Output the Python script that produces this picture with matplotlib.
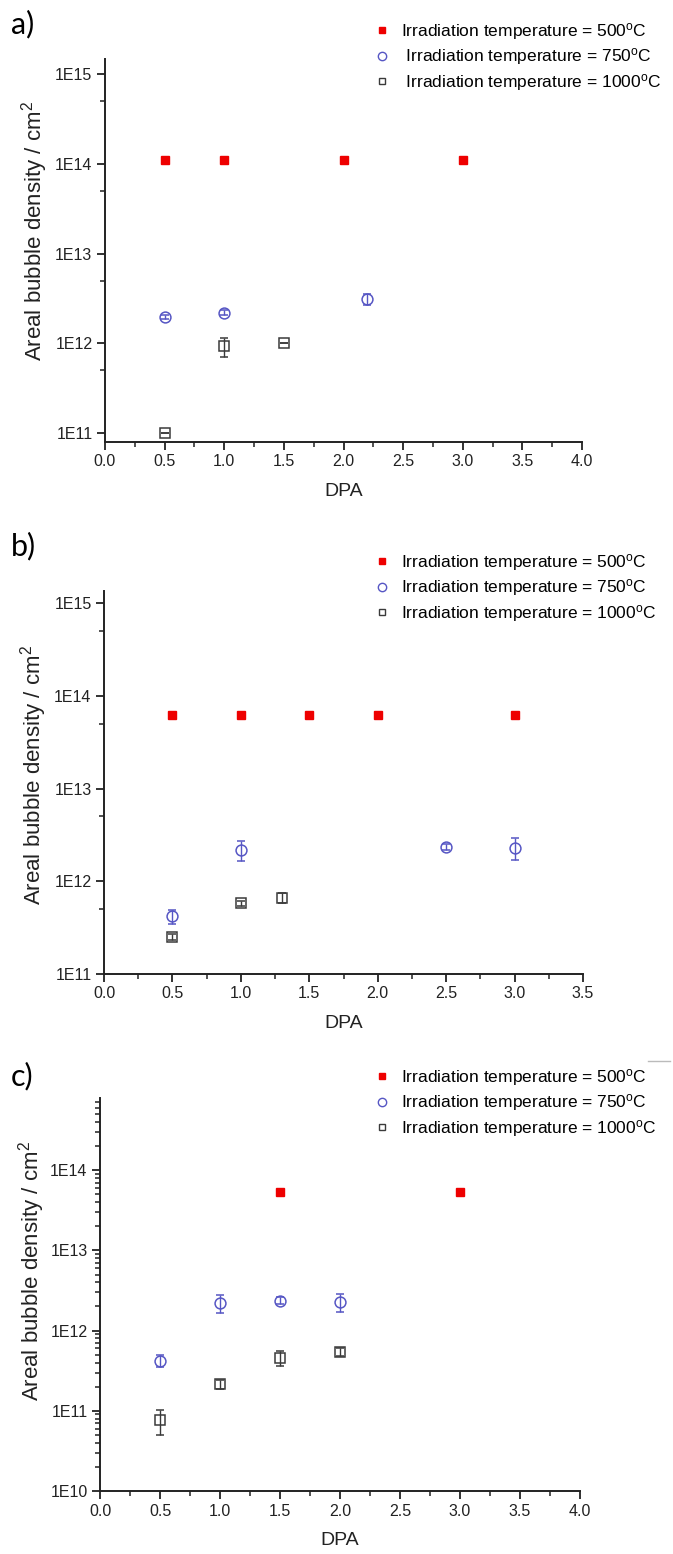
import numpy as np
import matplotlib
matplotlib.use("Agg")
import matplotlib.pyplot as plt
from matplotlib.ticker import FuncFormatter, MultipleLocator, LogLocator
from matplotlib.lines import Line2D

plt.rcParams['font.family'] = ['Liberation Sans', 'DejaVu Sans']
plt.rcParams['mathtext.fontset'] = 'custom'
plt.rcParams['mathtext.rm'] = 'Liberation Sans'
plt.rcParams['mathtext.it'] = 'Liberation Sans:italic'

# ---- data ----
# panel a
a_x500 = [0.5, 1.0, 2.0, 3.0]
a_y500 = [1.1e14, 1.1e14, 1.1e14, 1.1e14]
a_x750 = [0.5, 1.0, 2.2]
a_y750 = [1.95e12, 2.2e12, 3.1e12]
a_e750 = [0.1e12, 0.15e12, 0.45e12]
a_x1000 = [0.5, 1.0, 1.5]
a_y1000 = [1.0e11, 0.93e12, 1.0e12]
a_e1000 = [0.0, 0.22e12, 0.0]

# panel b
b_x500 = [0.5, 1.0, 1.5, 2.0, 3.0]
b_y500 = [6.2e13, 6.2e13, 6.2e13, 6.2e13, 6.2e13]
b_x750 = [0.5, 1.0, 2.5, 3.0]
b_y750 = [4.2e11, 2.2e12, 2.35e12, 2.3e12]
b_e750 = [0.7e11, 0.55e12, 0.2e12, 0.6e12]
b_x1000 = [0.5, 1.0, 1.3]
b_y1000 = [2.5e11, 5.8e11, 6.6e11]
b_e1000 = [0.2e11, 0.4e11, 0.8e11]

# panel c
c_x500 = [1.5, 3.0]
c_y500 = [5.4e13, 5.4e13]
c_x750 = [0.5, 1.0, 1.5, 2.0]
c_y750 = [4.2e11, 2.2e12, 2.37e12, 2.3e12]
c_e750 = [0.7e11, 0.55e12, 0.25e12, 0.6e12]
c_x1000 = [0.5, 1.0, 1.5, 2.0]
c_y1000 = [7.6e10, 2.15e11, 4.6e11, 5.4e11]
c_e1000 = [2.6e10, 0.3e11, 1.0e11, 0.6e11]

labels_a = ['Irradiation temperature = 500$^\\mathrm{o}$C',
            ' Irradiation temperature = 750$^\\mathrm{o}$C',
            ' Irradiation temperature = 1000$^\\mathrm{o}$C']
labels_bc = ['Irradiation temperature = 500$^\\mathrm{o}$C',
             'Irradiation temperature = 750$^\\mathrm{o}$C',
             'Irradiation temperature = 1000$^\\mathrm{o}$C']

RED = '#ee0000'
BLUE = '#5656c4'
GREY = '#3a3a3a'
INK = '#222222'

W, H = 673, 1554
fig = plt.figure(figsize=(W / 100, H / 100), dpi=100)


def box(left, right, top, bottom):
    return [left / W, 1 - bottom / H, (right - left) / W, (bottom - top) / H]


def sci_fmt(v, pos):
    return '1E%d' % int(round(np.log10(v)))


def panel(rect, data, errs, xmax, ylim, full_minor, labels, leg_top, letter,
          letter_y, ylab_pos):
    ax = fig.add_axes(rect)
    x5, y5, x7, y7, x10, y10 = data
    e7, e10 = errs
    ax.plot(x5, y5, 's', color=RED, ms=6.3, mec=RED, ls='none', zorder=3)
    ax.errorbar(x7, y7, yerr=e7, fmt='o', mfc='none', mec=BLUE, ecolor=BLUE,
                ms=7.8, mew=1.1, elinewidth=1.0, capsize=3, capthick=1.0)
    ax.errorbar(x10, y10, yerr=e10, fmt='s', mfc='none', mec=GREY, ecolor=GREY,
                ms=6.5, mew=1.1, elinewidth=1.0, capsize=3, capthick=1.0)
    ax.set_yscale('log')
    ax.set_ylim(*ylim)
    ax.set_xlim(0, xmax)
    ax.xaxis.set_major_locator(MultipleLocator(0.5))
    ax.xaxis.set_minor_locator(MultipleLocator(0.25))
    ax.xaxis.set_major_formatter(FuncFormatter(lambda v, p: '%.1f' % v))
    ax.yaxis.set_major_locator(LogLocator(base=10, numticks=20))
    ax.yaxis.set_major_formatter(FuncFormatter(sci_fmt))
    if full_minor:
        ax.yaxis.set_minor_locator(LogLocator(base=10, subs=np.arange(2, 10), numticks=20))
    else:
        ax.yaxis.set_minor_locator(LogLocator(base=10, subs=[5.0], numticks=20))
    ax.yaxis.set_minor_formatter(FuncFormatter(lambda v, p: ''))
    for s in ['top', 'right']:
        ax.spines[s].set_visible(False)
    for s in ['left', 'bottom']:
        ax.spines[s].set_linewidth(1.4)
        ax.spines[s].set_color(INK)
    ax.tick_params(which='major', direction='out', length=6, width=1.3,
                   labelsize=11.5, colors=INK, pad=3)
    ax.tick_params(which='minor', direction='out', length=3.5, width=1.1, colors=INK)
    ax.set_xlabel('DPA', fontsize=14, labelpad=10, color=INK)
    ax.set_ylabel('Areal bubble density / cm$^2$', fontsize=16, color=INK)
    ax.yaxis.set_label_coords(*ylab_pos)

    handles = [Line2D([], [], marker='s', color=RED, ls='none', ms=5),
               Line2D([], [], marker='o', mfc='none', mec=BLUE, ls='none', ms=6),
               Line2D([], [], marker='s', mfc='none', mec=GREY, ls='none', ms=5)]
    fig.legend(handles, labels, loc='upper left',
               bbox_to_anchor=(373 / W, 1 - leg_top / H), frameon=False,
               fontsize=12.5, handlelength=1.0, handletextpad=0.6,
               labelspacing=0.25, borderaxespad=0, borderpad=0)
    fig.text(11 / W, 1 - letter_y / H, letter, fontsize=22, va='center', ha='left',
             family=['Lato', 'DejaVu Sans'])
    return ax


panel(box(105, 582, 59, 442),
      [a_x500, a_y500, a_x750, a_y750, a_x1000, a_y1000], [a_e750, a_e1000],
      4.0, (10 ** 10.9, 10 ** 15.17), False, labels_a, 21, 'a)', 24,
      (-0.115, 0.55))

panel(box(104, 583, 591, 974),
      [b_x500, b_y500, b_x750, b_y750, b_x1000, b_y1000], [b_e750, b_e1000],
      3.5, (1e11, 10 ** 15.13), False, labels_bc, 552, 'b)', 546,
      (-0.115, 0.52))

panel(box(100, 580, 1098, 1491),
      [c_x500, c_y500, c_x750, c_y750, c_x1000, c_y1000], [c_e750, c_e1000],
      4.0, (1e10, 10 ** 14.9), True, labels_bc, 1067, 'c)', 1076,
      (-0.11, 0.56))

# faint stray line near legend c
fig.add_artist(Line2D([648 / W, 670 / W], [1 - 1061 / H, 1 - 1061 / H],
                      color='#bbbbbb', lw=1.0))

fig.savefig('out.png', dpi=100)
